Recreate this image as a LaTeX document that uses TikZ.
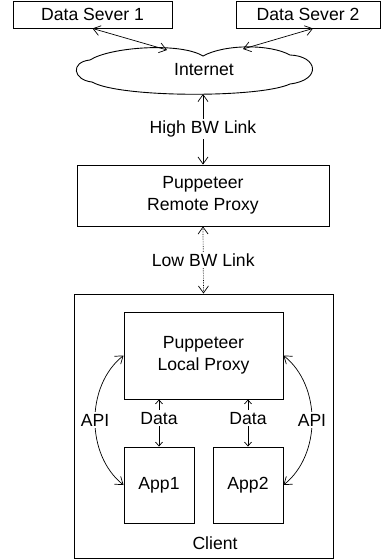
\documentclass[tikz,border=0pt]{standalone}
\usepackage{fontspec}
\setmainfont{Liberation Sans}
\usetikzlibrary{arrows.meta}
\begin{document}
\begin{tikzpicture}[x=1pt,y=-1pt,
  every node/.style={font=\fontsize{17.6}{22}\selectfont},
  box/.style={draw, line width=0.9pt, inner sep=0pt, align=center},
  link/.style={line width=0.7pt, {Straight Barb[length=7pt,width=10pt]}-{Straight Barb[length=7pt,width=10pt]}},
  slink/.style={line width=0.7pt, {Straight Barb[length=4pt,width=7pt]}-{Straight Barb[length=4pt,width=7pt]}},
  lbl/.style={fill=white, inner sep=2pt}
]
\useasboundingbox (0,0) rectangle (391,560);

% servers
\node[box, minimum width=159pt, minimum height=27pt] (ds1) at (92.5,14.5) {Data Sever 1};
\node[box, minimum width=144pt, minimum height=27pt] (ds2) at (308,14.5) {Data Sever 2};

% internet cloud
\draw[line width=0.9pt] (90,60) .. controls (110,47) and (180,42) .. (203,56)
  .. controls (225,44) and (270,44) .. (290,55)
  .. controls (318,56) and (322,80) .. (290,84)
  .. controls (260,98) and (120,98) .. (92,82)
  .. controls (73,80) and (70,62) .. (90,60) -- cycle;
\node (internet) at (204,70) {Internet};
\coordinate (c1) at (167,50);
\coordinate (c2) at (243,49);
\coordinate (c3) at (203,94);

% proxies and client
\node[box, minimum width=252pt, minimum height=61pt] (remote) at (203,195.5) {Puppeteer\\Remote Proxy};
\node[box, minimum width=259pt, minimum height=264pt] (client) at (203.5,426) {};
\node (clientlbl) at (215,543) {Client};
\node[box, minimum width=159pt, minimum height=87pt] (local) at (203.5,355.5) {Puppeteer\\Local Proxy};
\node[box, minimum width=70pt, minimum height=76pt] (app1) at (159,485) {App1};
\node[box, minimum width=70pt, minimum height=76pt] (app2) at (248,485) {App2};

% links
\draw[link] (ds1.south) -- (c1);
\draw[link] ([xshift=5pt]ds2.south) -- (c2);
\draw[link] (c3) -- (remote.north) node[midway,lbl] {High BW Link};
\draw[link, densely dotted] (remote.south) -- (client.north) node[midway,lbl] {Low BW Link};

\draw[slink] (local.south -| app1.north) -- (app1.north) node[pos=0.4,lbl] {Data};
\draw[slink] (local.south -| app2.north) -- (app2.north) node[pos=0.4,lbl] {Data};

\draw[link] (local.west) .. controls +(-38,30) and +(-38,-30) .. (app1.west) node[midway,lbl] {API};
\draw[link] (local.east) .. controls +(38,30) and +(38,-30) .. (app2.east) node[midway,lbl] {API};
\end{tikzpicture}
\end{document}
